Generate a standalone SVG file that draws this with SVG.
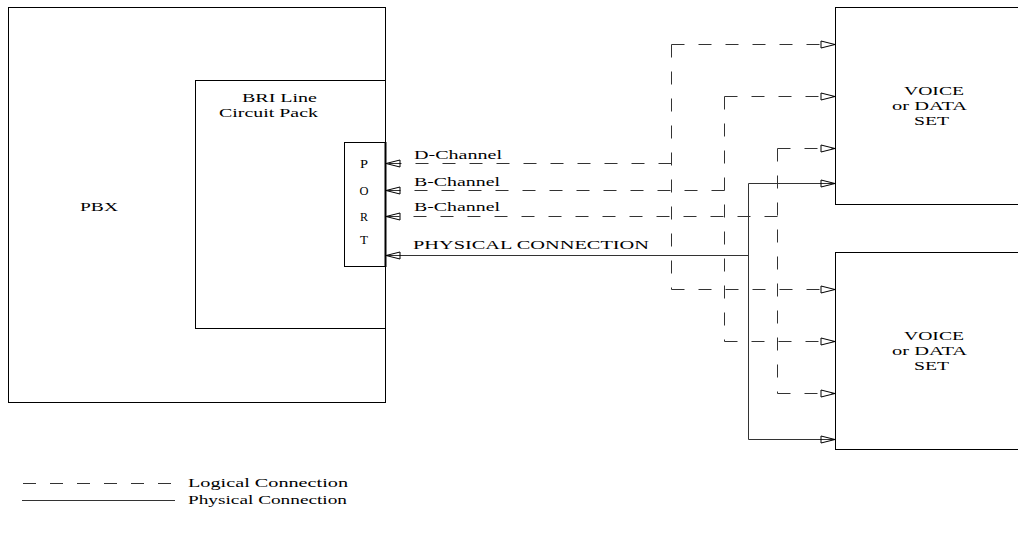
<svg xmlns="http://www.w3.org/2000/svg" width="1018" height="533" viewBox="0 0 1018 533">
<style>
.box{fill:none;stroke:#000;stroke-width:1}
.t{font-family:"Liberation Serif","Times New Roman",serif;font-size:13px;fill:#000}
.dash{fill:none;stroke:#333;stroke-width:1;stroke-dasharray:13 14}
.solid{fill:none;stroke:#333;stroke-width:1}
</style>
<defs>
<marker id="arr" markerUnits="userSpaceOnUse" markerWidth="16" markerHeight="8" refX="14" refY="3.5" orient="auto" overflow="visible">
<path d="M0,0 L14,3.5 L0,7 Z" fill="none" stroke="#000" stroke-width="1"/>
</marker>
</defs>
<rect width="1018" height="533" fill="#fff"/>
<g id="pbx">
<rect class="box" x="8.5" y="7.5" width="377" height="395"/>
<text class="t" x="80" y="211" textLength="38" lengthAdjust="spacingAndGlyphs">PBX</text>
</g>
<g id="bri">
<rect class="box" x="195.5" y="80.5" width="190" height="248"/>
<text class="t" x="242" y="102" textLength="75" lengthAdjust="spacingAndGlyphs">BRI Line</text>
<text class="t" x="219" y="117" textLength="99" lengthAdjust="spacingAndGlyphs">Circuit Pack</text>
</g>
<g id="port">
<rect class="box" x="344.5" y="142.5" width="41" height="124"/>
<line x1="385.5" y1="142" x2="385.5" y2="267" stroke="#000" stroke-width="2"/>
<text class="t" x="360" y="168" textLength="8" lengthAdjust="spacingAndGlyphs">P</text>
<text class="t" x="359.5" y="195" textLength="9" lengthAdjust="spacingAndGlyphs">O</text>
<text class="t" x="360" y="221" textLength="8" lengthAdjust="spacingAndGlyphs">R</text>
<text class="t" x="360" y="244" textLength="8" lengthAdjust="spacingAndGlyphs">T</text>
</g>
<g id="set1">
<rect class="box" x="835.5" y="7.5" width="190" height="197"/>
<text class="t" x="904" y="95" textLength="60" lengthAdjust="spacingAndGlyphs">VOICE</text>
<text class="t" x="892" y="110" textLength="75" lengthAdjust="spacingAndGlyphs">or DATA</text>
<text class="t" x="914" y="125" textLength="35" lengthAdjust="spacingAndGlyphs">SET</text>
</g>
<g id="set2">
<rect class="box" x="835.5" y="252.5" width="190" height="197"/>
<text class="t" x="904" y="340" textLength="60" lengthAdjust="spacingAndGlyphs">VOICE</text>
<text class="t" x="892" y="355" textLength="75" lengthAdjust="spacingAndGlyphs">or DATA</text>
<text class="t" x="914" y="370" textLength="35" lengthAdjust="spacingAndGlyphs">SET</text>
</g>
<g id="connectors">
<path class="dash" d="M671.5,163.5 H386" marker-end="url(#arr)"/>
<path class="dash" d="M671.5,44.5 V289.5"/>
<path class="dash" d="M671.5,44.5 H835" marker-end="url(#arr)"/>
<path class="dash" d="M671.5,289.5 H835" marker-end="url(#arr)"/>
<path class="dash" d="M724.5,190.5 H386" marker-end="url(#arr)"/>
<path class="dash" d="M724.5,96.5 V341.5"/>
<path class="dash" d="M724.5,96.5 H835" marker-end="url(#arr)"/>
<path class="dash" d="M724.5,341.5 H835" marker-end="url(#arr)"/>
<path class="dash" d="M777.5,216.5 H386" marker-end="url(#arr)"/>
<path class="dash" d="M777.5,148.5 V393.5"/>
<path class="dash" d="M777.5,148.5 H835" marker-end="url(#arr)"/>
<path class="dash" d="M777.5,393.5 H835" marker-end="url(#arr)"/>
<path class="solid" d="M748.5,255.5 H386" marker-end="url(#arr)"/>
<path class="solid" d="M748.5,183.5 V439.5"/>
<path class="solid" d="M748.5,183.5 H835" marker-end="url(#arr)"/>
<path class="solid" d="M748.5,439.5 H835" marker-end="url(#arr)"/>
</g>
<g id="labels">
<text class="t" x="414" y="159" textLength="88" lengthAdjust="spacingAndGlyphs">D-Channel</text>
<text class="t" x="414" y="186" textLength="86" lengthAdjust="spacingAndGlyphs">B-Channel</text>
<text class="t" x="414" y="211" textLength="86" lengthAdjust="spacingAndGlyphs">B-Channel</text>
<text class="t" x="413" y="249" textLength="236" lengthAdjust="spacingAndGlyphs">PHYSICAL CONNECTION</text>
</g>
<g id="legend">
<path class="dash" d="M23,483.5 H176"/>
<text class="t" x="188" y="487" textLength="160" lengthAdjust="spacingAndGlyphs">Logical Connection</text>
<path class="solid" d="M22,500.5 H175"/>
<text class="t" x="188" y="504" textLength="159" lengthAdjust="spacingAndGlyphs">Physical Connection</text>
</g>
</svg>
